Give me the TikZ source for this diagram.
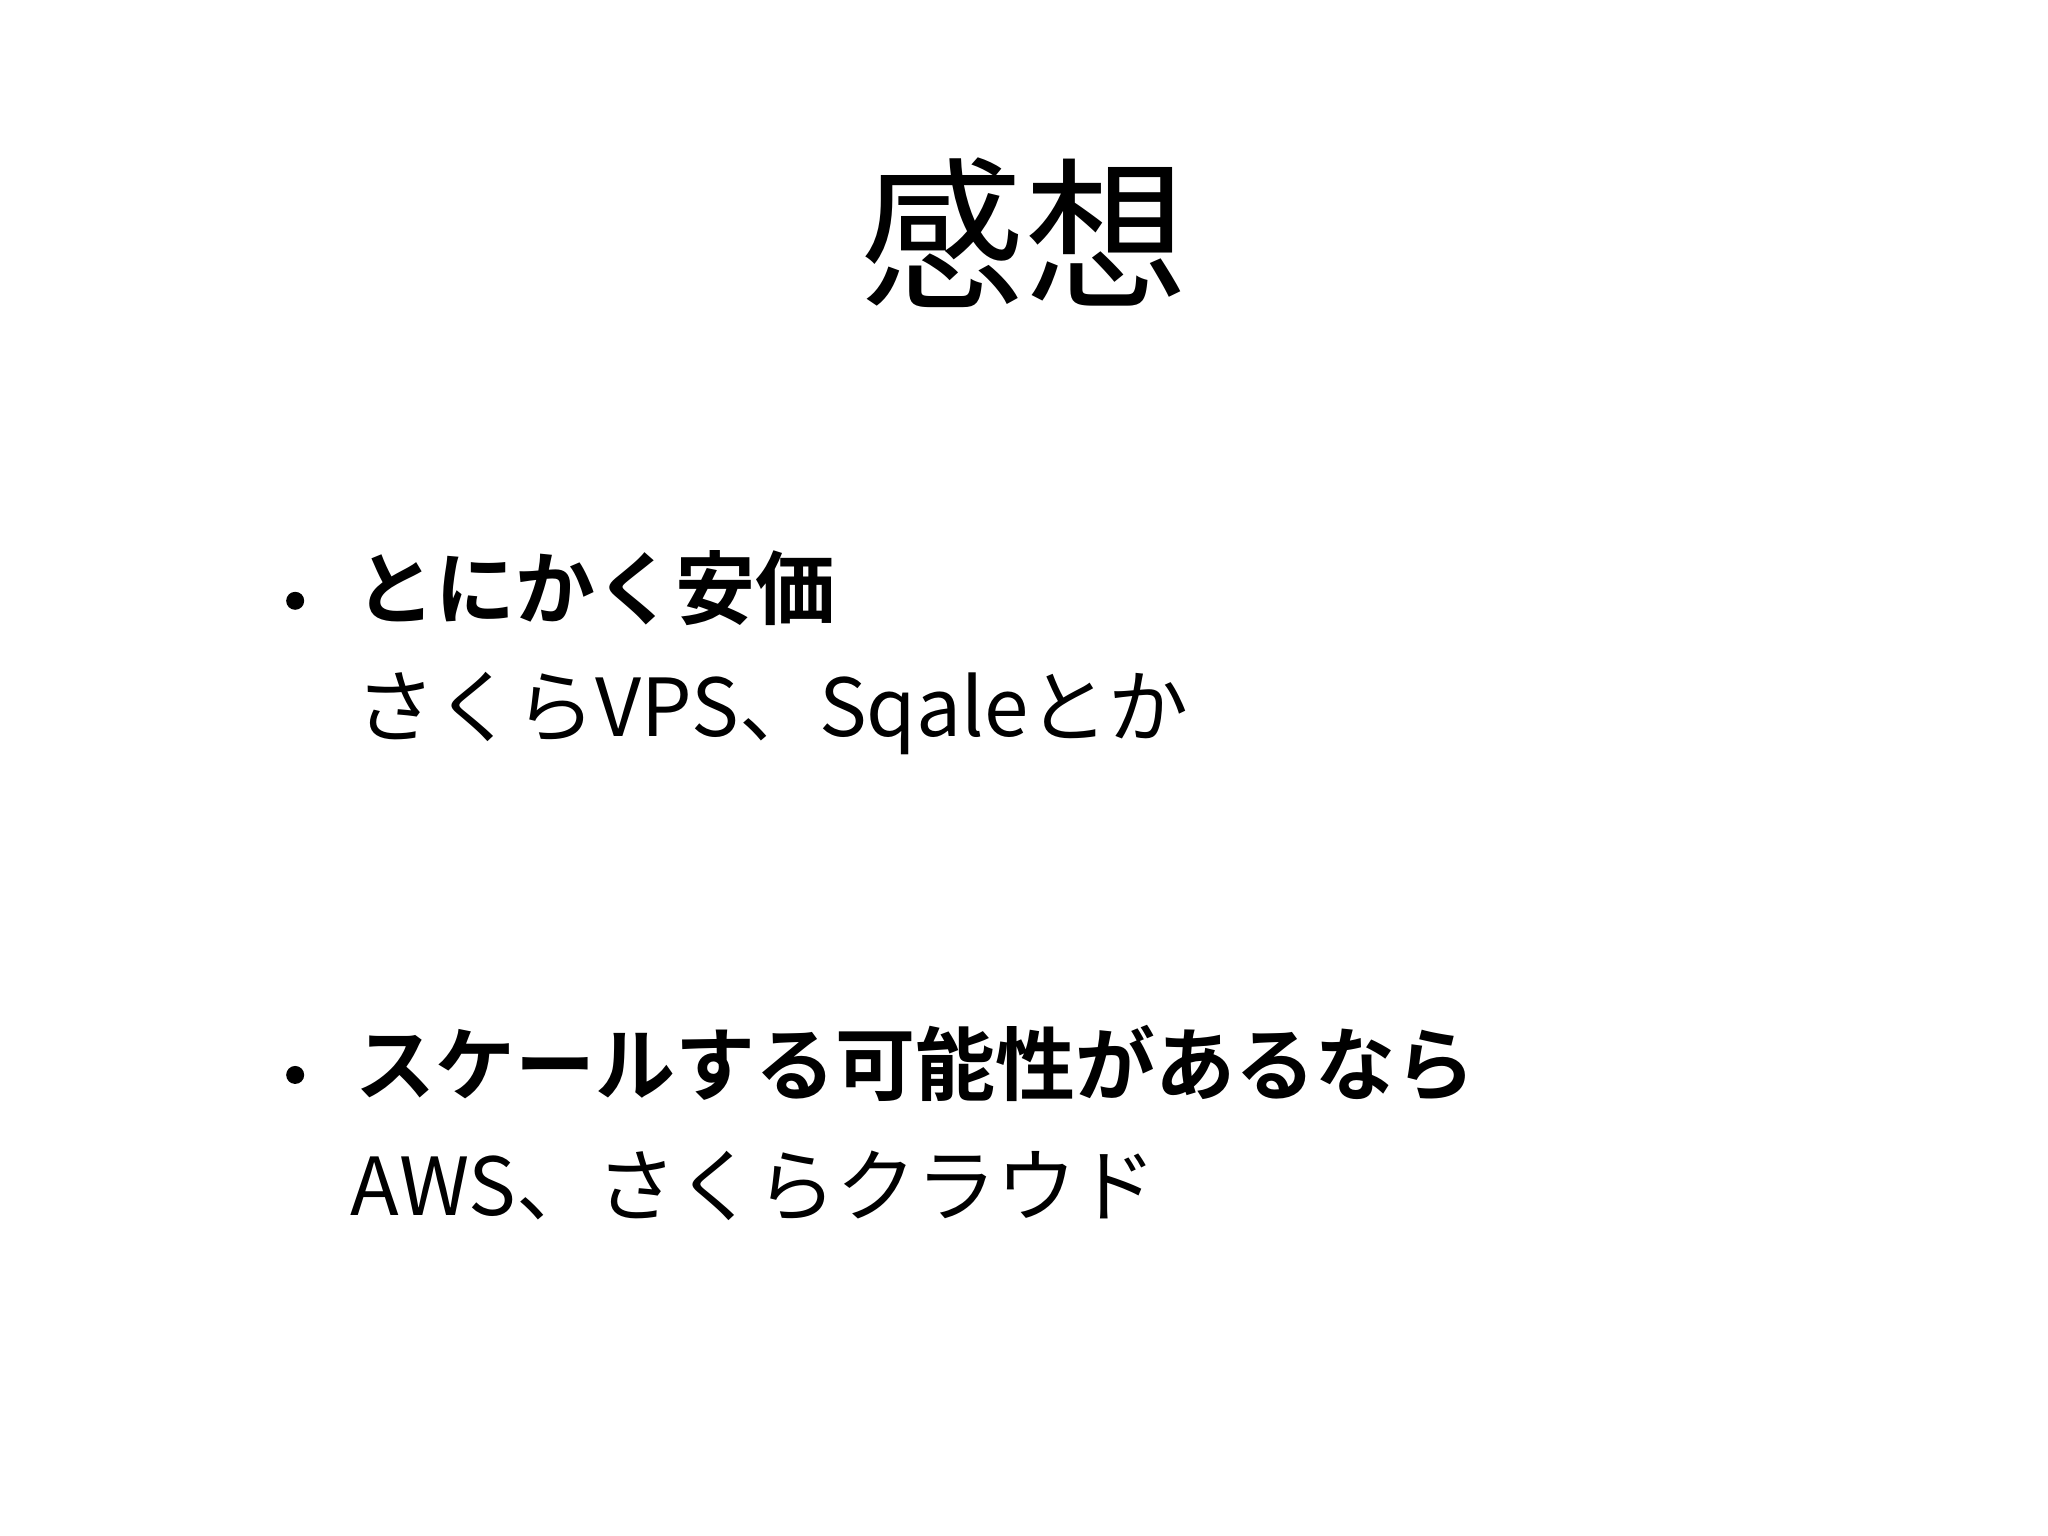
\documentclass[tikz,border=0pt]{standalone}
\usepackage{fontspec}
\newfontfamily\jp{Noto Sans CJK JP}
\newfontfamily\jpb{Noto Sans CJK JP Bold}
\begin{document}
\begin{tikzpicture}[x=0.6531pt,y=-0.6531pt,
  head/.style={anchor=west,inner sep=0,font=\jpb\fontsize{40}{48}\selectfont},
  sub/.style={anchor=west,inner sep=0,font=\jp\fontsize{40}{48}\selectfont},
  dot/.style={circle,fill=black,inner sep=0,minimum size=9pt}]
\useasboundingbox (0,0) rectangle (1568,1176);
\node[inner sep=0,font=\jp\fontsize{82}{96}\selectfont] (title) at (784,178) {感想};
\node[dot] (d1) at (226,460) {};
\node[head] (h1) at (272,450) {とにかく安価};
\node[sub] (s1) at (272,546) {さくらVPS、Sqaleとか};
\node[dot] (d2) at (226,823) {};
\node[head] (h2) at (272,814) {スケールする可能性があるなら};
\node[sub] (s2) at (268,908) {AWS、さくらクラウド};
\end{tikzpicture}
\end{document}
